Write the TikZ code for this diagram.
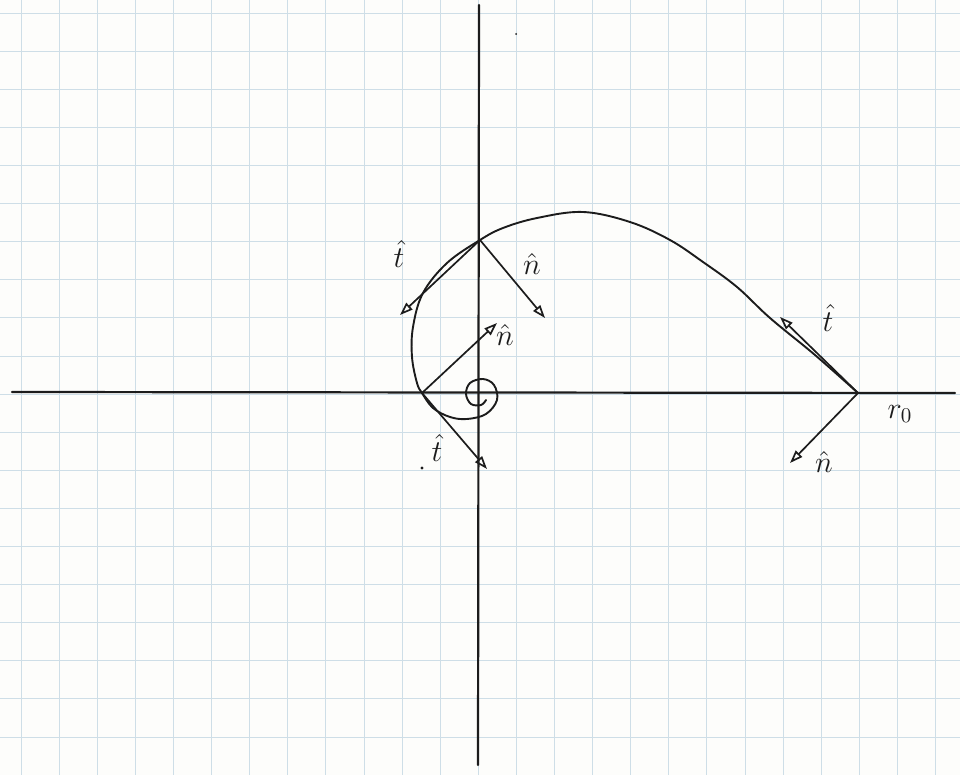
\documentclass[tikz,border=0pt]{standalone}
\usetikzlibrary{arrows.meta}
\definecolor{paper}{RGB}{253,253,251}
\definecolor{gridc}{RGB}{206,222,231}
\definecolor{ink}{RGB}{28,28,28}
\newcommand{\biglab}[1]{\scalebox{2.1}{\Large$#1$}}
\begin{document}
\begin{tikzpicture}[x=1pt,y=-1pt,
  gridline/.style={draw=gridc,line width=0.8pt},
  axisline/.style={draw=ink,line width=2.2pt,line cap=round},
  penline/.style={draw=ink,line width=1.9pt,line cap=round,line join=round},
  vec/.style={draw=ink,line width=1.7pt,line cap=round,-{Triangle[open,length=13pt,width=9pt,line width=1.7pt]}},
  lab/.style={text=ink,inner sep=0pt}]
\fill[paper] (0,0) rectangle (960,775);
\useasboundingbox (0,0) rectangle (960,775);
% graph paper
\foreach \k in {0,...,24} \draw[gridline] ({21+38.1*\k},0) -- ({21+38.1*\k},775);
\foreach \k in {0,...,20} \draw[gridline] (0,{13+38.1*\k}) -- (960,{13+38.1*\k});
% axes
\coordinate (xl) at (12,392);
\coordinate (xr) at (955,393);
\coordinate (yt) at (479,5);
\coordinate (yb) at (478,765);
\draw[axisline] (xl) -- (xr);
\draw[axisline] (yt) -- (yb);
% key points
\coordinate (R0) at (858,393);
\coordinate (P) at (480,240);
\coordinate (Q) at (422,393);
% trajectory
\draw[penline] plot[smooth,tension=0.6] coordinates {(858,393) (815,355) (770,318) (737,287) (703,262) (670,240) (630,222) (583,212) (537,218) (503,228) (480,240) (447,263) (423,293) (413,327) (412,357) (417,383) (422,393) (433,408) (450,417) (467,419) (486,414) (497,400) (494,385) (483,379) (470,383) (466,394) (471,404) (481,405) (486,400)};
% vector tips
\coordinate (tR) at (780,317);
\coordinate (nR) at (790,463);
\coordinate (tP) at (400,315);
\coordinate (nP) at (545,318);
\coordinate (tQ) at (487,469);
\coordinate (nQ) at (497,323);
\draw[vec] (R0) -- (tR);
\draw[vec] (R0) -- (nR);
\draw[vec] (P) -- (tP);
\draw[vec] (P) -- (nP);
\draw[vec] (Q) -- (tQ);
\draw[vec] (Q) -- (nQ);
% labels
\node[lab] (ltR) at (828,318) {\biglab{\hat{t}}};
\node[lab] (lnR) at (824,462) {\biglab{\hat{n}}};
\node[lab] (lr0) at (900,414) {\biglab{r_0}};
\node[lab] (ltP) at (399,254) {\biglab{\hat{t}}};
\node[lab] (lnP) at (532,264) {\biglab{\hat{n}}};
\node[lab] (lnQ) at (505,335) {\biglab{\hat{n}}};
\node[lab] (ltQ) at (437,448) {\biglab{\hat{t}}};
% stray pen dots
\fill[ink] (422,468) circle (1.6pt);
\fill[ink] (516,34) circle (1pt);
\end{tikzpicture}
\end{document}
